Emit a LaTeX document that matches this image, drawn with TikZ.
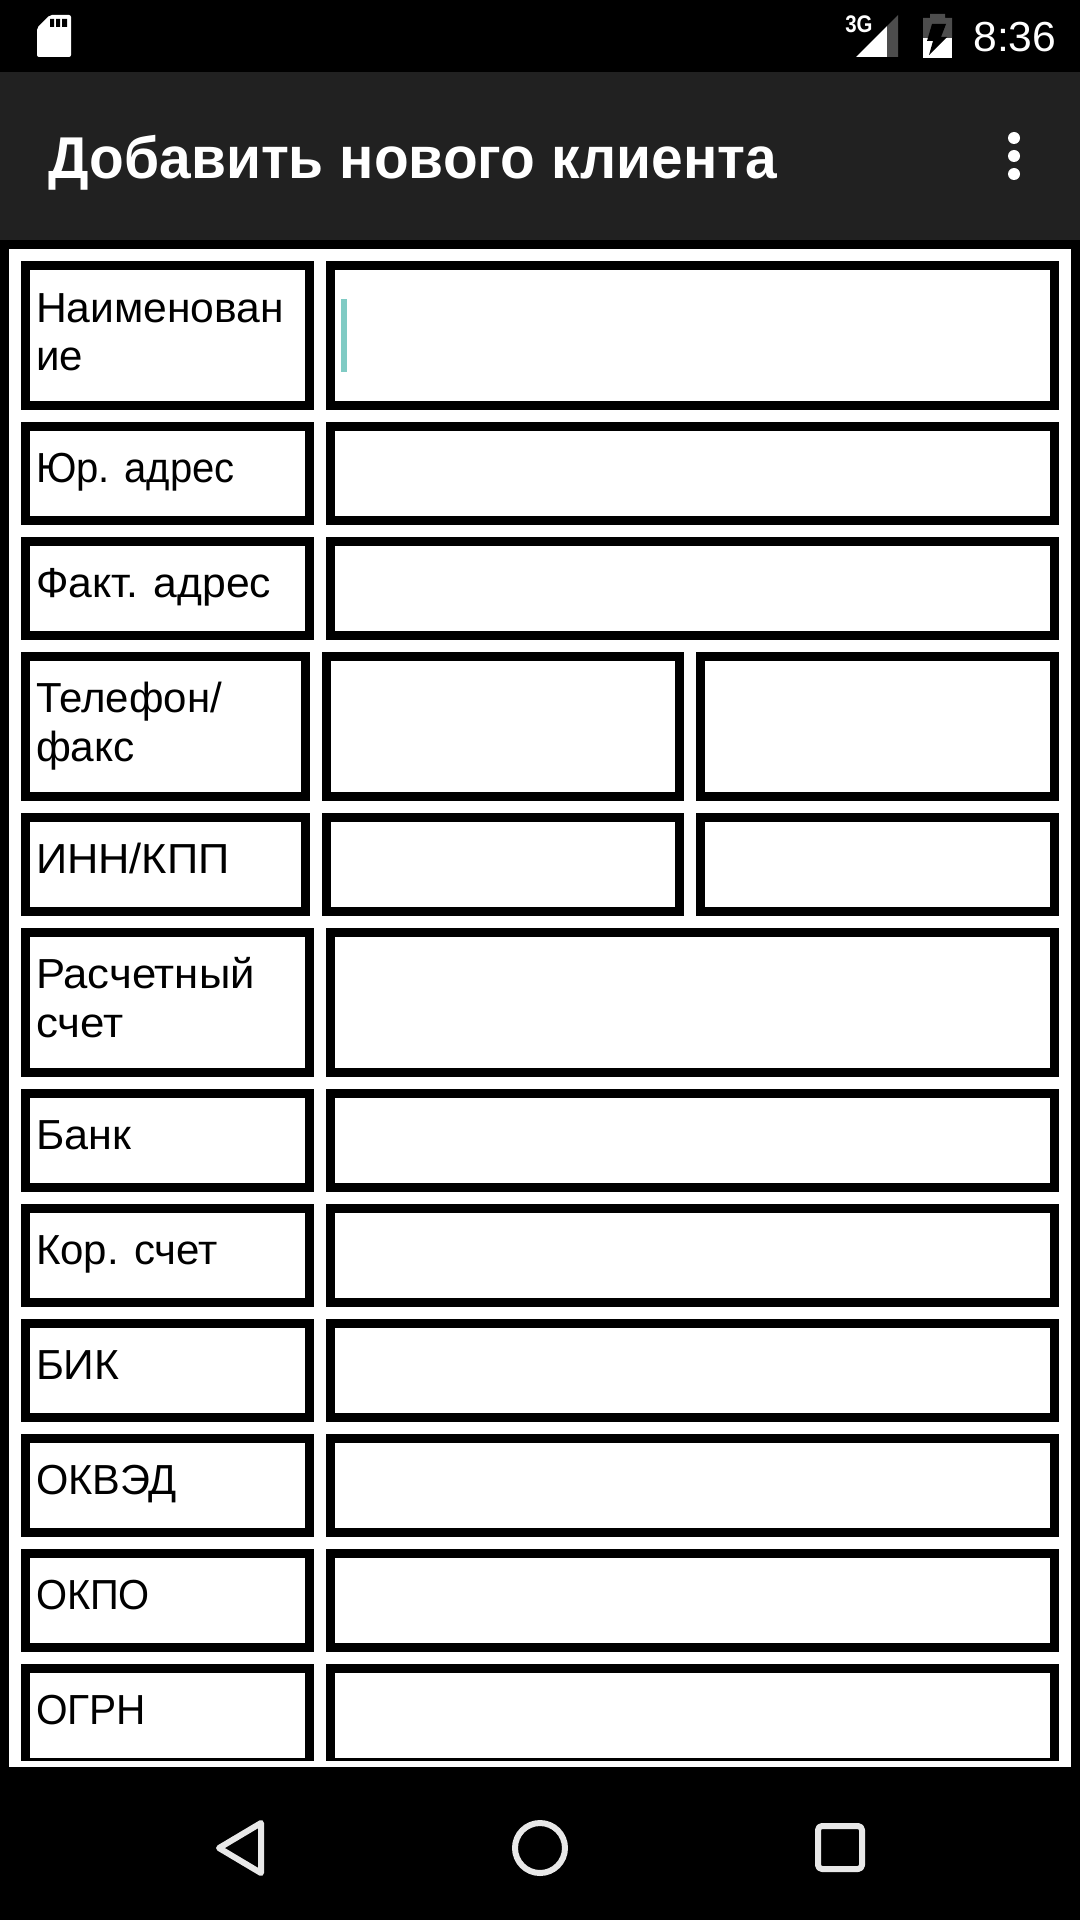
\documentclass[tikz,border=0pt]{standalone}
\usepackage{fontspec}
\setmainfont{Liberation Sans}
\newfontfamily\smallfont{Liberation Sans Bold}
\definecolor{appbar}{HTML}{212121}
\definecolor{cursorc}{HTML}{80CBC4}
\definecolor{navc}{HTML}{E8E8E8}
\definecolor{dimc}{HTML}{4D4D4D}
\tikzset{
  fieldbox/.style={draw=black,fill=white,line width=4.5pt,inner sep=0pt,outer sep=0pt},
  lbl/.style={anchor=base west,inner sep=0pt,outer sep=0pt,text=black,font=\fontsize{21}{24.5}\selectfont,xscale=#1,transform shape},
  lbl/.default=1,
  navicon/.style={draw=navc,line width=3pt,line join=round},
}
\newcommand{\fld}[5]{\node[fieldbox,minimum width={(#4-#2-9)*0.5pt},minimum height={(#5-#3-9)*0.5pt}] (#1) at ({(#2+#4)/2},{(#3+#5)/2}) {};}
\begin{document}
\begin{tikzpicture}[x=0.5pt,y=-0.5pt]
\useasboundingbox (0,0) rectangle (1080,1920);
\fill[black] (0,0) rectangle (1080,1920);
\fill[appbar] (0,72) rectangle (1080,240);
\fill[white] (9,249) rectangle (1071,1767);
% status bar
\fill[white,rounded corners=1pt] (37,28) -- (50,15) -- (71,15) -- (71,57) -- (37,57) -- cycle;
\fill[black] (50,19) rectangle (54,27) (56,19) rectangle (60,27) (62,19) rectangle (67,27);
\node[anchor=base west,inner sep=0pt,text=white,font=\smallfont\fontsize{12}{12}\selectfont,xscale=.85,transform shape] (net) at (845,33) {3G};
\fill[white] (856,57) -- (887,26) -- (887,57) -- cycle;
\fill[dimc] (887,26) -- (898,15) -- (898,57) -- (887,57) -- cycle;
\fill[dimc] (930,14) rectangle (945,18) (923,18) rectangle (952,38);
\fill[white] (923,38) rectangle (952,58);
\fill[black] (932,24) -- (946,24) -- (941,37) -- (947,37) -- (929,55) -- (933,41) -- (927,41) -- cycle;
\node[anchor=base west,inner sep=0pt,text=white,font=\fontsize{21}{24}\selectfont,xscale=1.015,transform shape] (clock) at (973,52) {8:36};
% app bar
\node[anchor=base west,inner sep=0pt,text=white,font=\smallfont\fontsize{29.5}{32}\selectfont,xscale=.964,transform shape] (title) at (48,179) {Добавить нового клиента};
\fill[white] (1014,138) circle (6) (1014,156) circle (6) (1014,174) circle (6);
% rows
\fld{a1}{21}{261}{314}{410}   \fld{b1}{326}{261}{1059}{410}
\fld{a2}{21}{422}{314}{525}   \fld{b2}{326}{422}{1059}{525}
\fld{a3}{21}{537}{314}{640}   \fld{b3}{326}{537}{1059}{640}
\fld{a4}{21}{652}{310}{801}   \fld{b4}{322}{652}{684}{801}  \fld{c4}{696}{652}{1059}{801}
\fld{a5}{21}{813}{310}{916}   \fld{b5}{322}{813}{684}{916}  \fld{c5}{696}{813}{1059}{916}
\fld{a6}{21}{928}{314}{1077}  \fld{b6}{326}{928}{1059}{1077}
\fld{a7}{21}{1089}{314}{1192} \fld{b7}{326}{1089}{1059}{1192}
\fld{a8}{21}{1204}{314}{1307} \fld{b8}{326}{1204}{1059}{1307}
\fld{a9}{21}{1319}{314}{1422} \fld{b9}{326}{1319}{1059}{1422}
\fld{a10}{21}{1434}{314}{1537} \fld{b10}{326}{1434}{1059}{1537}
\fld{a11}{21}{1549}{314}{1652} \fld{b11}{326}{1549}{1059}{1652}
\fld{a12}{21}{1664}{314}{1767} \fld{b12}{326}{1664}{1059}{1767}
\fill[white] (9,1761) rectangle (1071,1767);
\fill[cursorc] (341,299) rectangle (347,372);
% labels
\node[lbl=1.015] (t1) at (36,322) {Наименован};
\node[lbl] (t1b) at (36,371) {ие};
\node[lbl=.953] (t2) at (36,482) {Юр. адрес};
\node[lbl=1.016] (t3) at (36,597) {Факт. адрес};
\node[lbl] (t4) at (36,712) {Телефон/};
\node[lbl=1.01] (t4b) at (36,761) {факс};
\node[lbl=1.033] (t5) at (36,873) {ИНН/КПП};
\node[lbl=1.04] (t6) at (36,988) {Расчетный};
\node[lbl=1.045] (t6b) at (36,1037) {счет};
\node[lbl=1.027] (t7) at (36,1149) {Банк};
\node[lbl] (t8) at (36,1264) {Кор. счет};
\node[lbl=1.015] (t9) at (36,1379) {БИК};
\node[lbl=.99] (t10) at (36,1494) {ОКВЭД};
\node[lbl=.95] (t11) at (36,1609) {ОКПО};
\node[lbl=.967] (t12) at (36,1724) {ОГРН};
% navigation
\draw[navicon] (219,1848) -- (261,1823) -- (261,1873) -- cycle;
\draw[navicon] (540,1848) circle (25);
\draw[navicon,rounded corners=2pt] (818,1826) rectangle (862,1869);
\end{tikzpicture}
\end{document}
